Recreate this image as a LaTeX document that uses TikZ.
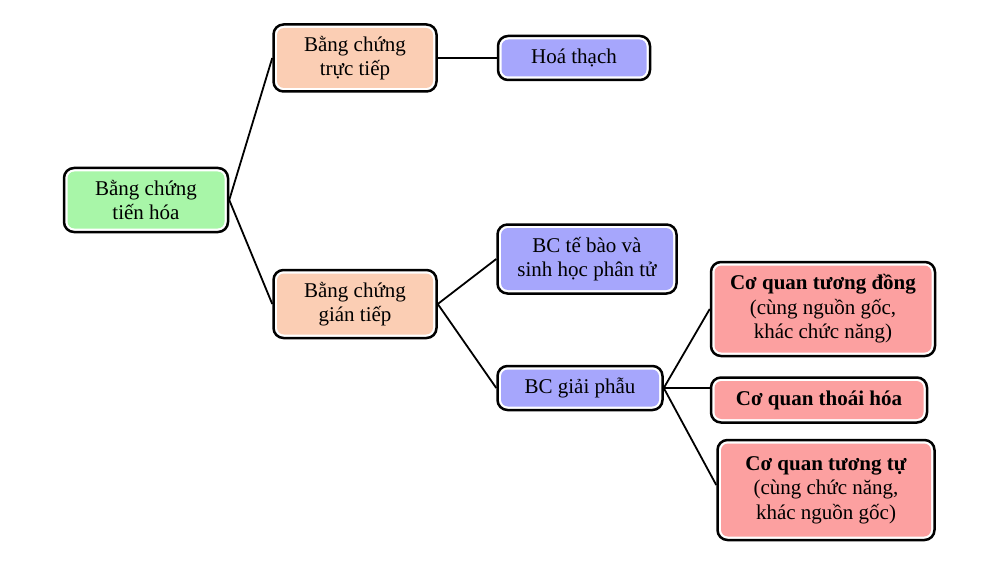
\documentclass[tikz,border=0pt]{standalone}
\usepackage{fontspec}
\setmainfont{Liberation Serif}
\usepackage{tikz}
\usepackage{xcolor}
\usetikzlibrary{calc, positioning}
\definecolor{rootgreen}{RGB}{168,246,168}
\definecolor{peach}{RGB}{251,206,180}
\definecolor{lilac}{RGB}{166,166,252}
\definecolor{rosy}{RGB}{252,160,160}
\tikzset{
  box/.style={draw=black, line width=2.5pt, fill=white, rounded corners=10pt,
    align=center, inner sep=0pt, font=\fontsize{21}{24.5}\selectfont,
    path picture={\fill[#1, rounded corners=7pt]
      ([shift={(3.5pt,3.5pt)}]path picture bounding box.south west) rectangle
      ([shift={(-3.5pt,-3.5pt)}]path picture bounding box.north east);}},
  link/.style={line width=1.8pt}
}

\begin{document}
\begin{tikzpicture}[x=1pt, y=-1pt]
                        \useasboundingbox (0, 0) rectangle (983, 583);

                        \node[box=rootgreen, minimum width=164pt, minimum height=64pt] (bcth) at (146, 200) {Bằng chứng\\tiến hóa};
                        \node[box=peach, minimum width=163pt, minimum height=67pt] (bctt) at (355, 58) {Bằng chứng\\trực tiếp};
                        \node[box=lilac, minimum width=152pt, minimum height=44pt] (hoath) at (574, 58) {Hoá thạch};
                        \node[box=peach, minimum width=163pt, minimum height=68pt] (bcgt) at (355, 304) {Bằng chứng\\gián tiếp};
                        \node[box=lilac, minimum width=179pt, minimum height=69pt] (bctb) at (587, 259) {BC tế bào và\\sinh học phân tử};
                        \node[box=lilac, minimum width=165pt, minimum height=44pt] (bcgp) at (580, 388) {BC giải phẫu};
                        \node[box=rosy, minimum width=224pt, minimum height=94pt] (cqtd) at (823, 309) {\textbf{Cơ quan tương đồng}\\(cùng nguồn gốc,\\khác chức năng)};
                        \node[box=rosy, minimum width=216pt, minimum height=45pt] (cqthh) at (819, 400) {\textbf{Cơ quan thoái hóa}};
                        \node[box=rosy, minimum width=217pt, minimum height=100pt] (cqtt) at (826, 490) {\textbf{Cơ quan tương tự}\\(cùng chức năng,\\khác nguồn gốc)};

                        \draw[link]
                        (bcth.east) edge (bctt.west)
                        (bcth.east) edge (bcgt.west)
                        (bctt.east) edge (hoath.west)
                        (bcgt.east) edge (bctb.west)
                        (bcgt.east) edge (bcgp.west)
                        (bcgp.east) edge (cqtd.west)
                        (bcgp.east) edge (bcgp.east -| cqthh.west)
                        (bcgp.east) edge ([yshift=5pt]cqtt.west);
                    \end{tikzpicture}
\end{document}
